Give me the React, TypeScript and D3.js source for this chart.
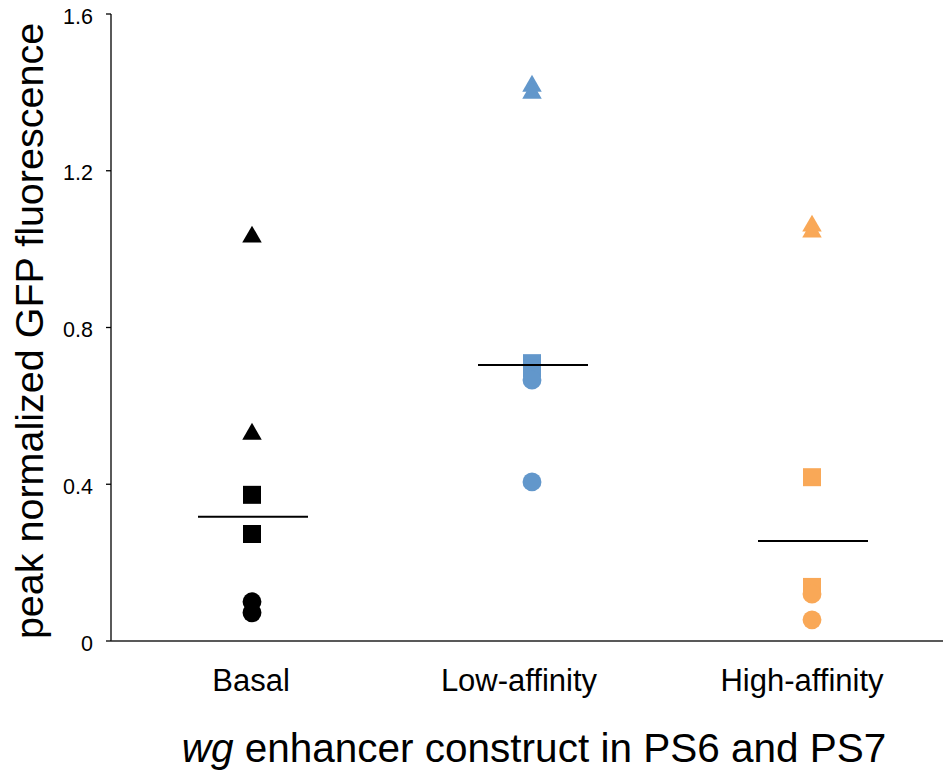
import React, { useEffect, useRef } from 'react';
import * as d3 from 'd3';

// categories on the x axis
const categories = ['Basal', 'Low-affinity', 'High-affinity'];
const colors = ['#000000', '#6297CB', '#F9A857'];

// each replicate: shape + value
const basal = [
  { shape: 'triangle', value: 1.035 },
  { shape: 'triangle', value: 0.532 },
  { shape: 'square', value: 0.373 },
  { shape: 'square', value: 0.273 },
  { shape: 'circle', value: 0.1 },
  { shape: 'circle', value: 0.072 },
];
const lowAffinity = [
  { shape: 'triangle', value: 1.42 },
  { shape: 'triangle', value: 1.402 },
  { shape: 'square', value: 0.709 },
  { shape: 'square', value: 0.695 },
  { shape: 'circle', value: 0.666 },
  { shape: 'circle', value: 0.406 },
];
const highAffinity = [
  { shape: 'triangle', value: 1.063 },
  { shape: 'triangle', value: 1.048 },
  { shape: 'square', value: 0.418 },
  { shape: 'square', value: 0.138 },
  { shape: 'circle', value: 0.12 },
  { shape: 'circle', value: 0.054 },
];
const series = [basal, lowAffinity, highAffinity];

// horizontal summary line per category
const centerLines = [0.317, 0.704, 0.255];

const yTicks = [0, 0.4, 0.8, 1.2, 1.6];

const App = () => {
  const ref = useRef<SVGSVGElement>(null);

  useEffect(() => {
    const width = 943;
    const left = 111;
    const top = 14;
    const bottom = 641;

    const svg = d3.select(ref.current);
    svg.selectAll('*').remove();

    const font = "'Liberation Sans', Arial, Helvetica, sans-serif";

    const x = d3.scaleBand().domain(categories).range([left, left + 840]);
    const y = d3.scaleLinear().domain([0, 1.6]).range([bottom, top]);

    // y axis
    svg.append('line')
      .attr('x1', left).attr('x2', left)
      .attr('y1', y(1.6)).attr('y2', y(0))
      .attr('stroke', '#000').attr('stroke-width', 1.3);

    yTicks.forEach(t => {
      svg.append('line')
        .attr('x1', left - 5).attr('x2', left)
        .attr('y1', y(t)).attr('y2', y(t))
        .attr('stroke', '#000').attr('stroke-width', 1.3);
      svg.append('text')
        .attr('x', 93).attr('y', y(t) + 2)
        .attr('dy', '0.35em')
        .attr('text-anchor', 'end')
        .attr('font-family', font)
        .attr('font-size', 21.5)
        .text(t === 0 ? '0' : t.toFixed(1));
    });

    // x axis
    svg.append('line')
      .attr('x1', left).attr('x2', width)
      .attr('y1', y(0)).attr('y2', y(0))
      .attr('stroke', '#222').attr('stroke-width', 1.3);

    // labels sit slightly left of the marker column in the original
    const labelShift = [0, -12, -9];
    categories.forEach((c, i) => {
      svg.append('text')
        .attr('x', x(c)! + x.bandwidth() / 2 + labelShift[i])
        .attr('y', 691)
        .attr('text-anchor', 'middle')
        .attr('font-family', font)
        .attr('font-size', 31)
        .text(c);
    });

    // markers
    const symbolFor: Record<string, d3.SymbolType> = {
      triangle: d3.symbolTriangle,
      square: d3.symbolSquare,
      circle: d3.symbolCircle,
    };
    const sizeFor: Record<string, number> = {
      triangle: 165,
      square: 324,
      circle: 280,
    };

    series.forEach((pts, i) => {
      const cx = x(categories[i])! + x.bandwidth() / 2 + 1;
      svg.append('g')
        .selectAll('path')
        .data(pts)
        .enter()
        .append('path')
        .attr('d', d => d3.symbol().type(symbolFor[d.shape]).size(sizeFor[d.shape])()!)
        .attr('transform', d => `translate(${cx},${y(d.value) + (d.shape === 'triangle' ? 1.5 : 0)})`)
        .attr('fill', colors[i]);

      svg.append('line')
        .attr('x1', cx - 54).attr('x2', cx + 56)
        .attr('y1', y(centerLines[i])).attr('y2', y(centerLines[i]))
        .attr('stroke', '#000').attr('stroke-width', 2);
    });

    // y axis title
    svg.append('text')
      .attr('transform', `translate(43,331) rotate(-90)`)
      .attr('text-anchor', 'middle')
      .attr('font-family', font)
      .attr('font-size', 39.5)
      .text('peak normalized GFP fluorescence');

    // x axis title
    const xt = svg.append('text')
      .attr('x', 534).attr('y', 762)
      .attr('text-anchor', 'middle')
      .attr('font-family', font)
      .attr('font-size', 40.5);
    xt.append('tspan').attr('font-style', 'italic').text('wg');
    xt.append('tspan').text(' enhancer construct in PS6 and PS7');
  }, []);

  return (
    <svg
      ref={ref}
      width={943}
      height={772}
      style={{ position: 'absolute', left: 0, top: 0, background: '#fff' }}
    />
  );
};

export default App;
